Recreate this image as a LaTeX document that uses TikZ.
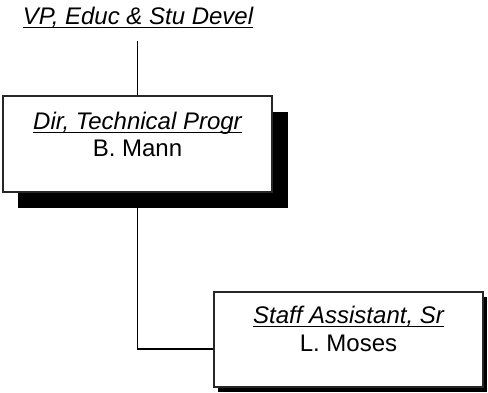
\documentclass[tikz,border=0pt]{standalone}
\usepackage{fontspec}
\setmainfont{Liberation Sans}
\usetikzlibrary{shadows,backgrounds}
\newcommand\myul[1]{\setbox0\hbox{#1}\rlap{\vrule width\wd0 height -2.8bp depth 4.4bp}\box0}
\begin{document}
\begin{tikzpicture}[x=1bp,y=-1bp,
  box/.style={draw=black!85,line width=1.5bp,fill=white,minimum width=269bp,minimum height=96bp,inner sep=0pt},
  bigshadow/.style={drop shadow={fill=black,opacity=1,shadow xshift=15.5bp,shadow yshift=-16bp}},
  smallshadow/.style={drop shadow={fill=black,opacity=1,shadow xshift=4bp,shadow yshift=-4.5bp}},
  lbl/.style={inner sep=0pt,anchor=base,font=\fontsize{24bp}{27bp}\selectfont},
  conn/.style={draw=black,line width=1.3bp}]
\useasboundingbox (0,0) rectangle (488,392);
\coordinate (vpb) at (137.5,41);
\coordinate (elb) at (137.5,349);
\node[box,bigshadow] (dir) at (137.5,144) {};
\node[box,smallshadow,minimum height=95bp] (staff) at (348.5,339.5) {};
\node[lbl] (vp) at (138,24) {\myul{\itshape VP, Educ \& Stu Devel}};
\node[lbl] (dirt) at (137.5,129) {\myul{\itshape Dir, Technical Progr}};
\node[lbl] (dirn) at (137.5,156) {B. Mann};
\node[lbl] (stafft) at (348.5,323) {\myul{\itshape Staff Assistant, Sr}};
\node[lbl] (staffn) at (348.5,351) {L. Moses};
\begin{scope}[on background layer]
\draw[conn] (vpb) -- (dir.north);
\draw[conn] (dir.south) -- (elb) -- (elb -| staff.west);
\end{scope}
\end{tikzpicture}
\end{document}
